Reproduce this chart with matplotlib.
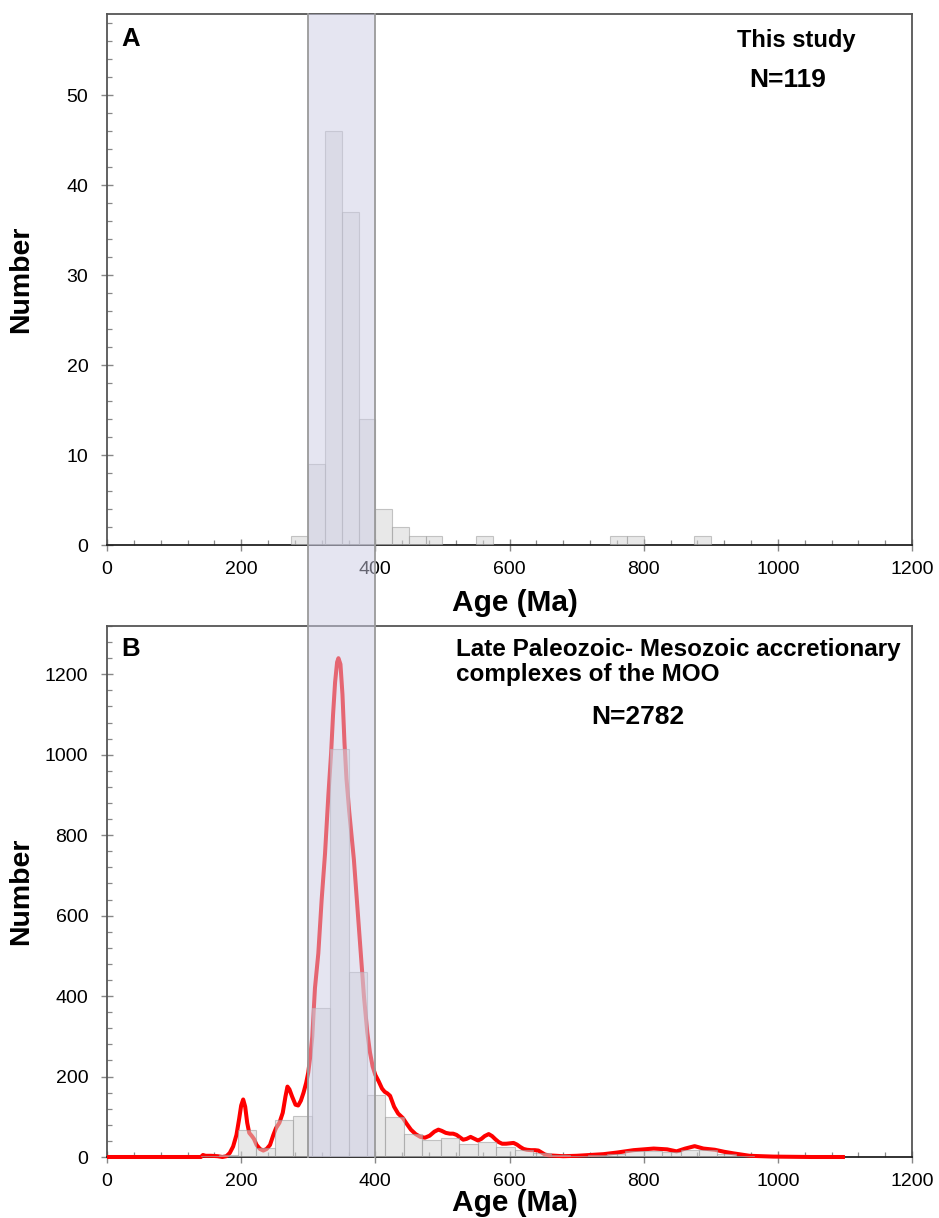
import matplotlib
matplotlib.use("Agg")
import matplotlib.pyplot as plt
from matplotlib.patches import Rectangle
from matplotlib.lines import Line2D
from matplotlib.ticker import MultipleLocator, AutoMinorLocator
import matplotlib.transforms as mtransforms

plt.rcParams['font.family'] = ['Liberation Sans', 'DejaVu Sans']

# ---------------- data ----------------
# Panel A: this study, 25 Ma bins (left edges)
a_bin_left = [275, 300, 325, 350, 375, 400, 425, 450, 475, 550, 750, 775, 875]
a_counts   = [1,   9,   46,  37,  14,  4,   2,   1,   1,   1,   1,   1,   1]
a_bin_width = 25

# Panel B: compiled data, 27.5 Ma bins (left edges)
b_bin_left = [140, 167.5, 195, 222.5, 250, 277.5, 305, 332.5, 360, 387.5,
              415, 442.5, 470, 497.5, 525, 552.5, 580, 607.5, 635, 662.5,
              690, 717.5, 745, 772.5, 800, 827.5, 855, 882.5, 910, 937.5]
b_counts   = [2, 6, 66, 22, 91, 103, 370, 1013, 460, 155,
              100, 56, 43, 47, 33, 38, 26, 18, 9, 4,
              3, 5, 8, 14, 15, 12, 18, 18, 8, 3]
b_bin_width = 27.5

# Panel B: probability density curve
kde_age = [0, 100, 140, 143, 147, 155, 165, 172, 178, 183, 188, 193, 197, 200,
           203, 206, 209, 212, 216, 219, 223, 228, 233, 238, 243, 248, 252, 257,
           262, 266, 269, 272, 276, 281, 285, 289, 293, 297, 300, 303, 306, 310,
           315, 320, 325, 330, 334, 337, 340, 343, 345, 348, 351, 354, 357, 361,
           365, 368, 372, 376, 379, 383, 388, 392, 396, 400, 405, 410, 414, 418,
           422, 428, 434, 441, 447, 453, 460, 467, 474, 481, 488, 494, 499, 505,
           511, 516, 521, 527, 531, 536, 542, 547, 553, 558, 563, 569, 574, 579,
           584, 589, 595, 601, 606, 611, 616, 621, 626, 632, 638, 643, 648, 653,
           659, 680, 700, 720, 740, 760, 785, 815, 835, 849, 862, 876, 889, 906,
           920, 934, 958, 993, 1050, 1100]
kde_val = [0, 0, 0, 5, 3, 3, 2, 0, 2, 10, 26, 55, 95, 128,
           143, 125, 85, 60, 52, 45, 30, 20, 16, 20, 30, 55, 72, 85,
           110, 150, 175, 168, 150, 130, 128, 140, 160, 185, 210, 250, 299, 420,
           506, 640, 754, 900, 1002, 1100, 1180, 1230, 1240, 1225, 1150, 1030, 940, 860,
           790, 740, 650, 560, 490, 400, 310, 260, 225, 204, 188, 170, 162, 158,
           152, 125, 108, 97, 82, 68, 57, 50, 48, 53, 63, 68, 65, 60,
           58, 58, 55, 48, 43, 45, 50, 46, 41, 45, 52, 57, 52, 44,
           37, 33, 33, 34, 35, 31, 25, 20, 18, 17, 17, 16, 11, 6,
           4, 2, 3, 5, 7, 11, 17, 21, 19, 14, 21, 27, 21, 18,
           13, 9, 3, 1, 0, 0]

highlight_range = (300, 400)

# ---------------- figure ----------------
W, H = 939, 1218
fig = plt.figure(figsize=(W / 100, H / 100), dpi=100)

def frac_box(l, t, r, b):
    return [l / W, 1 - b / H, (r - l) / W, (b - t) / H]

axA = fig.add_axes(frac_box(107, 14, 912, 545))
axB = fig.add_axes(frac_box(107, 626, 912, 1157))

bar_face = '#d6d6d6'
bar_edge = '#9a9a9a'
spine_col = '#555555'
tick_col = '#888888'

def style_axis(ax, ymax, ymajor, label_x_y, label_y_x):
    ax.set_xlim(0, 1200)
    ax.set_ylim(0, ymax)
    ax.xaxis.set_major_locator(MultipleLocator(200))
    ax.xaxis.set_minor_locator(AutoMinorLocator(5))
    ax.yaxis.set_major_locator(MultipleLocator(ymajor))
    ax.yaxis.set_minor_locator(AutoMinorLocator(5))
    for s in ax.spines.values():
        s.set_color(spine_col)
        s.set_linewidth(1.3)
    ax.spines['bottom'].set_color('#222222')
    ax.tick_params(axis='both', which='major', direction='inout', length=9,
                   width=1.0, color=tick_col, labelsize=14, labelcolor='black')
    ax.tick_params(axis='both', which='minor', direction='in', length=3.5,
                   width=0.9, color=tick_col)
    ax.tick_params(axis='x', which='major', pad=7)
    ax.tick_params(axis='y', which='major', pad=9)
    ax.set_xlabel('Age (Ma)', fontsize=21.5, fontweight='bold', va='center')
    ax.set_ylabel('Number', fontsize=20.5, fontweight='bold', va='center')
    ax.xaxis.set_label_coords(0.507, label_x_y)
    ax.yaxis.set_label_coords(label_y_x, 0.5)

# Panel A
axA.bar(a_bin_left, a_counts, width=a_bin_width, align='edge',
        color=bar_face, edgecolor=bar_edge, linewidth=0.8, alpha=0.55, zorder=3)
style_axis(axA, 59, 10, -0.109, -0.107)
axA.text(21, 55.5, 'A', fontsize=18.5, fontweight='bold', ha='left', va='baseline')
axA.text(1027, 55.3, 'This study', fontsize=17, fontweight='bold',
         ha='center', va='baseline')
axA.text(1015, 50.9, 'N=119', fontsize=19, fontweight='bold',
         ha='center', va='baseline')

# Panel B
axB.plot(kde_age, kde_val, color='#ff0000', linewidth=2.9, zorder=2.7,
         solid_capstyle='butt', clip_on=False)
axB.bar(b_bin_left, b_counts, width=b_bin_width, align='edge',
        color=bar_face, edgecolor=bar_edge, linewidth=0.8, alpha=0.55, zorder=3)
style_axis(axB, 1320, 200, -0.087, -0.107)
axB.text(21, 1246, 'B', fontsize=18.5, fontweight='bold', ha='left', va='baseline')
axB.text(520, 1245, 'Late Paleozoic- Mesozoic accretionary',
         fontsize=17.5, fontweight='bold', ha='left', va='baseline')
axB.text(520, 1183, 'complexes of the MOO',
         fontsize=17.5, fontweight='bold', ha='left', va='baseline')
axB.text(792, 1093, 'N=2782', fontsize=19, fontweight='bold',
         ha='center', va='center')

# highlight band spanning both panels
trans = mtransforms.blended_transform_factory(axA.transData, fig.transFigure)
y0 = 1 - 1157 / H
y1 = 1 - 14 / H
band = Rectangle((highlight_range[0], y0), highlight_range[1] - highlight_range[0],
                 y1 - y0, transform=trans, facecolor='#cdcde5', alpha=0.5,
                 edgecolor='none', zorder=10)
fig.add_artist(band)
for xv in highlight_range:
    fig.add_artist(Line2D([xv, xv], [y0, y1], transform=trans,
                          color='#9a9a9a', linewidth=1.3, zorder=11))

fig.savefig('out.png', dpi=100)
